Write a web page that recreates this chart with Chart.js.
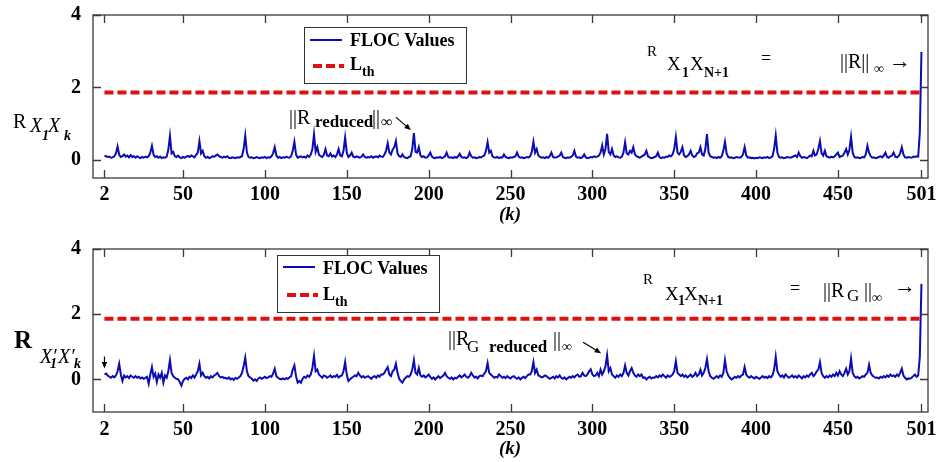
<!DOCTYPE html>
<html><head><meta charset="utf-8">
<script src="https://cdn.jsdelivr.net/npm/chart.js@4.4.1/dist/chart.umd.min.js"></script>
<style>
body{margin:0;background:#fff;width:936px;height:462px;overflow:hidden;position:relative;font-family:"Liberation Serif","Times New Roman",serif;}
canvas{position:absolute;left:0;}
.t{position:absolute;line-height:1;white-space:nowrap;color:#000;}
.b{font-weight:bold}.i{font-style:italic}
.lg{position:absolute;border:1.5px solid #333;background:#fff;box-sizing:border-box;}
svg{position:absolute;left:0;top:0;}
</style></head><body>
<canvas id="c1" style="top:0" width="936" height="230"></canvas>
<canvas id="c2" style="top:230px" width="936" height="232"></canvas>

<!-- legends -->
<div class="lg" style="left:304px;top:27px;width:163px;height:57px"></div>
<div class="lg" style="left:277px;top:255px;width:163px;height:58px"></div>
<svg width="936" height="462">
  <line x1="310" y1="40" x2="342" y2="40" stroke="#0c0cb4" stroke-width="2"/>
  <line x1="313" y1="66" x2="344" y2="66" stroke="#e01010" stroke-width="4" stroke-dasharray="9,4"/>
  <line x1="283" y1="267" x2="315" y2="267" stroke="#0c0cb4" stroke-width="2"/>
  <line x1="287" y1="295" x2="318" y2="295" stroke="#e01010" stroke-width="4" stroke-dasharray="9,4"/>
</svg>
<span class="t b" style="left:350px;top:31px;font-size:18px">FLOC Values</span>
<span class="t b" style="left:350px;top:55px;font-size:18px">L</span>
<span class="t b" style="left:362px;top:65px;font-size:14px">th</span>
<span class="t b" style="left:323px;top:259px;font-size:18px">FLOC Values</span>
<span class="t b" style="left:323px;top:285px;font-size:18px">L</span>
<span class="t b" style="left:335px;top:295px;font-size:14px">th</span>

<!-- y labels -->
<span class="t" style="left:13px;top:111px;font-size:20px">R</span>
<span class="t i" style="left:30px;top:115px;font-size:20px">X</span>
<span class="t b i" style="left:42px;top:129px;font-size:14px">1</span>
<span class="t i" style="left:48px;top:115px;font-size:20px">X</span>
<span class="t b i" style="left:64px;top:129px;font-size:14px">k</span>

<span class="t b" style="left:14px;top:327px;font-size:25px">R</span>
<span class="t i" style="left:40px;top:346px;font-size:20px">X′</span>
<span class="t b i" style="left:50px;top:357px;font-size:14px">1</span>
<span class="t i" style="left:58px;top:346px;font-size:20px">X′</span>
<span class="t b i" style="left:74px;top:357px;font-size:14px">k</span>

<!-- x titles -->
<span class="t b i" style="left:485px;width:50px;text-align:center;top:204px;font-size:19px">(k)</span>
<span class="t b i" style="left:485px;width:50px;text-align:center;top:438px;font-size:19px">(k)</span>

<!-- top annotations -->
<span class="t" style="left:289px;top:107px;font-size:20px">||R</span>
<span class="t b" style="left:315px;top:113px;font-size:17px">reduced</span>
<span class="t" style="left:372px;top:107px;font-size:20px">||</span>
<span class="t b" style="left:381px;top:114px;font-size:16px">∞</span>

<span class="t" style="left:647px;top:44px;font-size:15px">R</span>
<span class="t" style="left:667px;top:54px;font-size:19px">X</span>
<span class="t b" style="left:682px;top:66px;font-size:14px">1</span>
<span class="t" style="left:690px;top:54px;font-size:19px">X</span>
<span class="t b" style="left:704px;top:66px;font-size:14px">N+1</span>
<span class="t" style="left:761px;top:49px;font-size:18px">=</span>
<span class="t" style="left:840px;top:51px;font-size:20px">||R||</span>
<span class="t b" style="left:874px;top:62px;font-size:14px">∞</span>
<span class="t" style="left:889px;top:50px;font-size:22px">→</span>

<!-- bottom annotations -->
<span class="t" style="left:448px;top:328px;font-size:20px">||R</span>
<span class="t" style="left:467px;top:338px;font-size:17px">G</span>
<span class="t b" style="left:489px;top:338px;font-size:17px">reduced</span>
<span class="t" style="left:553px;top:329px;font-size:20px">||</span>
<span class="t b" style="left:562px;top:340px;font-size:14px">∞</span>

<span class="t" style="left:643px;top:272px;font-size:15px">R</span>
<span class="t" style="left:665px;top:284px;font-size:19px">X</span>
<span class="t b" style="left:678px;top:294px;font-size:14px">1</span>
<span class="t" style="left:684px;top:284px;font-size:19px">X</span>
<span class="t b" style="left:698px;top:294px;font-size:14px">N+1</span>
<span class="t" style="left:790px;top:279px;font-size:18px">=</span>
<span class="t" style="left:823px;top:280px;font-size:20px">||R</span>
<span class="t" style="left:847px;top:287px;font-size:17px">G</span>
<span class="t" style="left:864px;top:280px;font-size:20px">||</span>
<span class="t b" style="left:872px;top:291px;font-size:14px">∞</span>
<span class="t" style="left:894px;top:275px;font-size:22px">→</span>

<script>
// FLOC values for k = 2 .. 501 (top panel)
const flocTop = [
0.12,0.10,0.08,0.09,0.06,0.07,0.10,0.18,0.37,0.14,
0.08,0.10,0.15,0.09,0.12,0.07,0.13,0.08,0.10,0.06,
0.10,0.07,0.05,0.08,0.06,0.09,0.07,0.10,0.20,0.39,
0.14,0.08,0.10,0.06,0.09,0.05,0.07,0.06,0.09,0.28,
0.66,0.18,0.22,0.10,0.08,0.12,0.07,0.05,0.08,0.06,
0.09,0.11,0.08,0.12,0.10,0.07,0.14,0.20,0.52,0.18,
0.25,0.10,0.06,0.08,0.05,0.07,0.10,0.09,0.12,0.15,
0.10,0.08,0.06,0.09,0.07,0.10,0.06,0.05,0.07,0.06,
0.05,0.07,0.06,0.08,0.10,0.30,0.67,0.20,0.08,0.06,
0.07,0.05,0.06,0.08,0.06,0.05,0.07,0.06,0.08,0.05,
0.07,0.06,0.10,0.18,0.35,0.12,0.06,0.08,0.05,0.07,
0.06,0.09,0.07,0.06,0.10,0.25,0.50,0.15,0.06,0.08,
0.10,0.07,0.09,0.06,0.12,0.08,0.15,0.30,0.71,0.22,
0.35,0.14,0.10,0.08,0.14,0.30,0.12,0.10,0.18,0.09,
0.12,0.08,0.15,0.30,0.12,0.10,0.25,0.62,0.20,0.08,
0.12,0.20,0.09,0.07,0.10,0.08,0.06,0.09,0.15,0.08,
0.06,0.08,0.07,0.10,0.06,0.08,0.10,0.07,0.12,0.09,
0.08,0.15,0.25,0.46,0.20,0.15,0.28,0.35,0.52,0.18,
0.10,0.08,0.15,0.08,0.06,0.05,0.08,0.10,0.30,0.74,
0.22,0.20,0.35,0.12,0.08,0.10,0.06,0.07,0.12,0.20,
0.09,0.06,0.05,0.07,0.06,0.08,0.05,0.07,0.10,0.20,
0.08,0.06,0.07,0.05,0.08,0.06,0.10,0.17,0.08,0.06,
0.07,0.05,0.08,0.20,0.10,0.06,0.07,0.05,0.06,0.08,
0.07,0.10,0.12,0.25,0.49,0.20,0.25,0.10,0.07,0.06,
0.08,0.05,0.07,0.06,0.15,0.08,0.06,0.05,0.07,0.06,
0.08,0.10,0.20,0.09,0.06,0.07,0.05,0.06,0.08,0.07,
0.10,0.22,0.50,0.20,0.30,0.12,0.08,0.06,0.07,0.05,
0.08,0.06,0.10,0.20,0.08,0.06,0.07,0.09,0.12,0.20,
0.08,0.06,0.05,0.07,0.06,0.08,0.12,0.25,0.09,0.06,
0.07,0.05,0.08,0.15,0.07,0.05,0.06,0.08,0.07,0.10,
0.08,0.09,0.12,0.20,0.40,0.15,0.30,0.72,0.22,0.15,
0.30,0.12,0.08,0.10,0.07,0.06,0.09,0.20,0.49,0.18,
0.15,0.25,0.20,0.35,0.15,0.10,0.08,0.06,0.09,0.12,
0.15,0.25,0.10,0.07,0.05,0.06,0.08,0.10,0.20,0.08,
0.05,0.07,0.06,0.09,0.08,0.12,0.10,0.15,0.30,0.63,
0.20,0.15,0.22,0.35,0.12,0.08,0.10,0.15,0.25,0.12,
0.08,0.10,0.18,0.20,0.35,0.15,0.12,0.30,0.71,0.20,
0.10,0.08,0.06,0.07,0.05,0.08,0.06,0.10,0.25,0.50,
0.18,0.08,0.06,0.07,0.05,0.06,0.08,0.07,0.06,0.08,
0.15,0.35,0.12,0.06,0.07,0.05,0.06,0.04,0.06,0.05,
0.07,0.06,0.05,0.07,0.06,0.08,0.05,0.07,0.10,0.30,
0.67,0.20,0.08,0.06,0.07,0.05,0.06,0.08,0.07,0.06,
0.08,0.10,0.12,0.08,0.20,0.10,0.06,0.08,0.07,0.05,
0.08,0.12,0.10,0.25,0.12,0.15,0.30,0.52,0.18,0.12,
0.25,0.10,0.08,0.06,0.09,0.07,0.10,0.15,0.20,0.08,
0.10,0.12,0.20,0.30,0.15,0.28,0.64,0.20,0.08,0.06,
0.07,0.05,0.06,0.08,0.07,0.15,0.39,0.20,0.10,0.06,
0.07,0.05,0.06,0.08,0.10,0.07,0.12,0.20,0.08,0.06,
0.10,0.12,0.20,0.09,0.07,0.10,0.18,0.35,0.15,0.07,
0.06,0.08,0.07,0.06,0.09,0.08,0.10,0.09,0.75,2.98
];
// FLOC values for k = 2 .. 501 (bottom panel)
const flocBottom = [
0.15,0.18,0.12,0.08,0.05,0.10,0.06,0.12,0.25,0.48,
0.15,-0.05,0.12,0.06,0.10,0.04,0.12,0.08,0.05,0.10,
0.05,0.08,0.03,0.06,0.02,0.05,0.08,-0.13,0.15,0.38,
0.08,0.18,-0.08,0.15,0.05,0.20,-0.10,0.12,0.05,0.25,
0.59,0.20,0.10,0.05,0.02,0.00,-0.08,-0.19,-0.05,0.02,
0.05,0.00,0.08,0.04,0.12,0.06,0.15,0.25,0.48,0.12,
0.20,0.10,0.05,0.08,0.03,0.10,0.06,0.12,0.15,0.20,
0.10,0.06,0.08,0.04,0.05,0.02,0.06,0.00,0.03,-0.02,
0.05,0.02,0.06,0.10,0.20,0.40,0.67,0.25,0.10,0.06,
0.02,-0.04,0.00,-0.05,0.03,0.06,0.02,0.05,0.08,0.04,
0.06,0.10,0.08,0.18,0.33,0.10,0.05,0.02,0.00,0.03,
0.00,0.04,0.02,0.06,0.10,0.30,0.43,0.10,-0.10,-0.05,
-0.10,0.02,0.08,0.05,0.12,0.08,0.15,0.35,0.72,0.25,
0.30,0.15,0.10,0.05,0.12,0.10,0.05,0.08,0.12,0.06,
0.10,0.08,0.14,0.06,0.10,0.12,0.25,0.53,0.15,-0.05,
0.00,0.05,0.08,0.12,0.10,0.20,0.12,0.06,0.10,0.05,
0.08,0.10,0.06,0.02,0.08,0.10,0.05,0.12,0.08,0.15,
0.15,0.20,0.30,0.38,0.15,0.10,0.25,0.30,0.48,0.20,
0.02,-0.05,-0.10,0.00,0.05,0.10,0.08,0.15,0.30,0.59,
0.20,0.15,0.35,0.12,0.08,0.12,0.06,0.10,0.15,0.08,
0.02,0.06,0.00,0.05,0.10,0.04,0.08,0.12,0.20,0.10,
0.05,0.02,0.06,0.00,0.05,0.03,0.08,0.12,0.06,0.10,
0.15,0.08,0.05,0.10,0.20,0.12,0.06,0.08,0.03,0.10,
0.12,0.10,0.18,0.25,0.50,0.20,0.15,0.10,0.05,0.08,
0.06,0.15,0.10,0.05,0.08,0.04,0.10,0.06,0.03,0.08,
0.10,0.05,0.02,0.06,0.00,0.05,0.08,0.04,0.10,0.15,
0.15,0.25,0.53,0.20,0.30,0.12,0.10,0.06,0.08,0.12,
0.10,0.06,0.02,0.05,0.08,0.03,0.10,0.06,0.12,0.05,
0.02,0.06,0.00,0.04,0.08,0.05,0.10,0.06,0.12,0.15,
0.08,0.10,0.20,0.12,0.10,0.15,0.25,0.31,0.15,0.10,
0.12,0.20,0.10,0.30,0.15,0.25,0.40,0.74,0.25,0.35,
0.15,0.10,0.05,0.12,0.08,0.15,0.10,0.20,0.43,0.20,
0.12,0.25,0.35,0.20,0.12,0.08,0.15,0.10,0.15,0.05,
0.06,0.00,0.05,0.08,0.03,0.06,0.05,0.10,0.06,0.12,
0.08,0.15,0.10,0.05,0.12,0.08,0.10,0.15,0.25,0.56,
0.20,0.15,0.10,0.15,0.08,0.12,0.06,0.10,0.15,0.08,
0.12,0.20,0.10,0.15,0.30,0.12,0.20,0.35,0.62,0.25,
0.10,0.05,0.02,0.06,0.10,0.05,0.12,0.08,0.20,0.59,
0.25,0.12,0.05,0.00,0.03,0.08,0.05,0.10,0.06,0.12,
0.15,0.38,0.15,0.08,0.05,0.10,0.06,0.03,0.08,0.05,
0.02,0.06,0.10,0.05,0.08,0.04,0.10,0.06,0.12,0.30,
0.69,0.25,0.15,0.08,0.12,0.06,0.15,0.10,0.05,0.08,
0.12,0.06,0.10,0.05,0.12,0.08,0.03,0.10,0.06,0.12,
0.08,0.15,0.20,0.10,0.15,0.25,0.30,0.53,0.20,0.10,
0.05,0.10,0.06,0.12,0.08,0.15,0.10,0.20,0.12,0.25,
0.15,0.10,0.20,0.33,0.15,0.25,0.64,0.20,0.10,0.05,
0.08,0.03,0.06,0.10,0.08,0.15,0.20,0.45,0.20,0.12,
0.08,0.05,0.06,0.03,0.08,0.05,0.10,0.06,0.12,0.08,
0.15,0.10,0.12,0.08,0.15,0.10,0.20,0.33,0.12,0.05,
0.00,0.03,0.02,0.05,0.10,0.15,0.08,0.12,0.69,2.93
];
const firstK = 2;
const kIndex = flocTop.map((_, i) => i + firstK);
const thresholdLevel = 1.86;          // L_th
const xTickValues = [2,50,100,150,200,250,300,350,400,450,501];
const xTickLabels = ['2','50','100','150','200','250','300','350','400','450','501'];
const yTickValues = [0,2,4];
const yTickLabels = ['0','2','4'];

const BLUE = '#0c0cb4', RED = '#e01010', FRAME = '#3a3a3a';
const tickFont = {family:'Liberation Serif', weight:'bold', size:20};

function arrow(ctx, x1, y1, x2, y2) {
  const a = Math.atan2(y2 - y1, x2 - x1), h = 7;
  ctx.save();
  ctx.strokeStyle = '#000'; ctx.fillStyle = '#000'; ctx.lineWidth = 1.2;
  ctx.beginPath(); ctx.moveTo(x1, y1); ctx.lineTo(x2 - Math.cos(a)*h*0.6, y2 - Math.sin(a)*h*0.6); ctx.stroke();
  ctx.beginPath(); ctx.moveTo(x2, y2);
  ctx.lineTo(x2 - h*Math.cos(a - 0.4), y2 - h*Math.sin(a - 0.4));
  ctx.lineTo(x2 - h*Math.cos(a + 0.4), y2 - h*Math.sin(a + 0.4));
  ctx.closePath(); ctx.fill();
  ctx.restore();
}

const framePlugin = {
  id: 'frame',
  afterDraw(chart, args, opts) {
    const {ctx, chartArea: a, scales: {x, y}} = chart;
    ctx.save();
    ctx.strokeStyle = FRAME; ctx.lineWidth = 1.3;
    ctx.strokeRect(a.left, a.top, a.right - a.left, a.bottom - a.top);
    const L = 8;
    ctx.beginPath();
    x.ticks.forEach(t => {
      const px = Math.round(x.getPixelForValue(t.value)) + 0.5;
      ctx.moveTo(px, a.bottom); ctx.lineTo(px, a.bottom - L);
      ctx.moveTo(px, a.top); ctx.lineTo(px, a.top + L);
    });
    y.ticks.forEach(t => {
      const py = Math.round(y.getPixelForValue(t.value)) + 0.5;
      ctx.moveTo(a.left, py); ctx.lineTo(a.left + L, py);
      ctx.moveTo(a.right, py); ctx.lineTo(a.right - L, py);
    });
    ctx.stroke();
    ctx.restore();
    (opts.arrows || []).forEach(ar => {
      const px = x.getPixelForValue(ar.k), py = y.getPixelForValue(ar.v);
      arrow(ctx, px + ar.from[0], py + ar.from[1], px + ar.to[0], py + ar.to[1]);
    });
  }
};

function makeChart(id, values, yMin, padTop, axisH, xPad, arrows) {
  return new Chart(document.getElementById(id), {
    type: 'line',
    data: {
      datasets: [
        {label:'FLOC Values', data: kIndex.map((k, i) => ({x:k, y:values[i]})),
         borderColor: BLUE, borderWidth: 2, pointRadius: 0, tension: 0, order: 1},
        {label:'Lth', data: [{x:kIndex[0], y:thresholdLevel}, {x:kIndex[kIndex.length-1], y:thresholdLevel}],
         borderColor: RED, borderWidth: 4, borderDash: [9,4], pointRadius: 0, order: 2}
      ]
    },
    options: {
      responsive: false, animation: false, devicePixelRatio: 1,
      layout: {padding: {top: padTop, right: 8, left: 0, bottom: 0}},
      plugins: {legend: {display: false}, tooltip: {enabled: false}, frame: {arrows}},
      scales: {
        x: {type: 'linear', min: -5, max: 505,
            grid: {display: false}, border: {display: false},
            afterBuildTicks: s => { s.ticks = xTickValues.map(v => ({value: v})); },
            afterFit: s => { s.height = axisH; s.paddingLeft = 0; s.paddingRight = 0; },
            ticks: {autoSkip: false, maxRotation: 0, padding: xPad, font: tickFont, color: '#000',
                    callback: (v, i) => xTickLabels[i]}},
        y: {type: 'linear', min: yMin, max: 4,
            grid: {display: false}, border: {display: false},
            afterBuildTicks: s => { s.ticks = yTickValues.map(v => ({value: v})); },
            afterFit: s => { s.width = 93; s.paddingTop = 0; s.paddingBottom = 0; },
            ticks: {padding: 4, font: tickFont, color: '#000', callback: (v, i) => yTickLabels[i]}}
      }
    },
    plugins: [framePlugin]
  });
}

makeChart('c1', flocTop, -0.5, 15, 52, -3, [
  {k: 191, v: flocTop[191 - firstK], from: [-18, -16], to: [-3, -3]}
]);
makeChart('c2', flocBottom, -1, 19, 50, -2, [
  {k: 309, v: flocBottom[309 - firstK], from: [-24, -13], to: [-6, -2]},
  {k: 2, v: flocBottom[0], from: [0, -18], to: [0, -6]}
]);
</script>
</body></html>
